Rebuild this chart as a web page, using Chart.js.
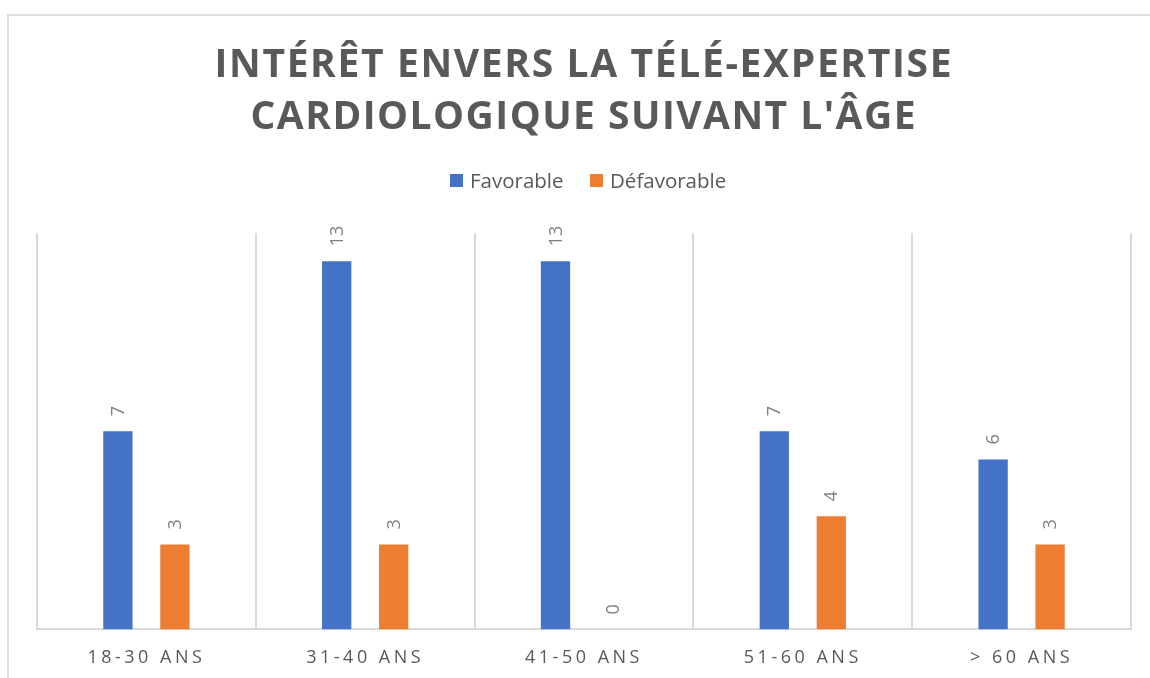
<!DOCTYPE html>
<html><head><meta charset="utf-8">
<script src="https://cdn.jsdelivr.net/npm/chart.js@4"></script>
<style>
html,body{margin:0;padding:0;background:#fff;overflow:hidden}
#frame{position:absolute;left:7px;top:14px;width:1200px;height:700px;border-left:2px solid #dcdcdc;border-top:2px solid #dcdcdc}
#wrap{position:absolute;left:0;top:0;width:1150px;height:678px}
</style></head><body>
<div id="frame"></div>
<div id="wrap"><canvas id="c" width="1150" height="678"></canvas></div>
<script>
const titleLines = ["INTÉRÊT ENVERS LA TÉLÉ-EXPERTISE", "CARDIOLOGIQUE SUIVANT L'ÂGE"];
const categories = ["18-30 ANS", "31-40 ANS", "41-50 ANS", "51-60 ANS", "> 60 ANS"];
const favorable = [7, 13, 13, 7, 6];
const defavorable = [3, 3, 0, 4, 3];
const seriesNames = ["Favorable", "Défavorable"];
const seriesColors = ["#4472C4", "#ED7D31"];
const yMin = 0, yMax = 14;

const deco = {
  id: 'deco',
  afterDatasetsDraw(chart) {
    const ctx = chart.ctx;
    ctx.save();
    ctx.font = '18px "Open Sans"';
    ctx.fillStyle = '#808080';
    ctx.textAlign = 'left';
    ctx.textBaseline = 'middle';
    chart.data.datasets.forEach((ds, i) => {
      chart.getDatasetMeta(i).data.forEach((bar, j) => {
        ctx.save();
        ctx.translate(bar.x + 1, bar.y - 15);
        ctx.rotate(-Math.PI / 2);
        ctx.fillText(String(ds.data[j]), 0, 0);
        ctx.restore();
      });
    });
    ctx.restore();
    ctx.letterSpacing = '3.5px';
  },
  afterDraw(chart) {
    const ctx = chart.ctx;
    ctx.letterSpacing = '0px';
    ctx.save();
    ctx.fillStyle = '#595959';
    ctx.font = 'bold 39px "Open Sans"';
    ctx.textBaseline = 'alphabetic';
    ctx.textAlign = 'left';
    const targets = [737, 665];
    const baselines = [77, 129];
    const cx = 583;
    titleLines.forEach((t, i) => {
      ctx.letterSpacing = '0px';
      const w = ctx.measureText(t).width;
      let sp = (targets[i] - w) / (t.length - 1);
      sp = Math.max(sp, 0.5);
      ctx.letterSpacing = sp + 'px';
      const tw = w + sp * (t.length - 1);
      ctx.fillText(t, cx - tw / 2, baselines[i]);
    });
    ctx.letterSpacing = '0px';
    // legend
    ctx.font = '20.5px "Open Sans"';
    ctx.textBaseline = 'alphabetic';
    const lx = [450, 590];
    seriesNames.forEach((n, i) => {
      ctx.fillStyle = seriesColors[i];
      ctx.fillRect(lx[i], 174, 13, 13);
      ctx.fillStyle = '#595959';
      ctx.fillText(n, lx[i] + 20, 188);
    });
    ctx.restore();
  }
};

new Chart(document.getElementById('c'), {
  type: 'bar',
  data: {
    labels: categories,
    datasets: [
      { label: seriesNames[0], data: favorable, backgroundColor: seriesColors[0], borderWidth: 0 },
      { label: seriesNames[1], data: defavorable, backgroundColor: seriesColors[1], borderWidth: 0 }
    ]
  },
  options: {
    responsive: false,
    devicePixelRatio: 1,
    animation: false,
    categoryPercentage: 0.521,
    barPercentage: 0.514,
    layout: { padding: { left: 37, right: 19, top: 233, bottom: -9 } },
    plugins: {
      legend: { display: false },
      title: { display: false },
      tooltip: { enabled: false }
    },
    scales: {
      x: {
        grid: { color: '#d9d9d9', lineWidth: 2, drawTicks: false, offset: true },
        border: { display: true, color: '#d9d9d9', width: 2 },
        ticks: { z: 1, color: '#595959', font: { family: '"Open Sans"', size: 18 }, padding: 18, maxRotation: 0, autoSkip: false }
      },
      y: { display: false, min: yMin, max: yMax }
    }
  },
  plugins: [deco]
});
</script>
</body></html>
